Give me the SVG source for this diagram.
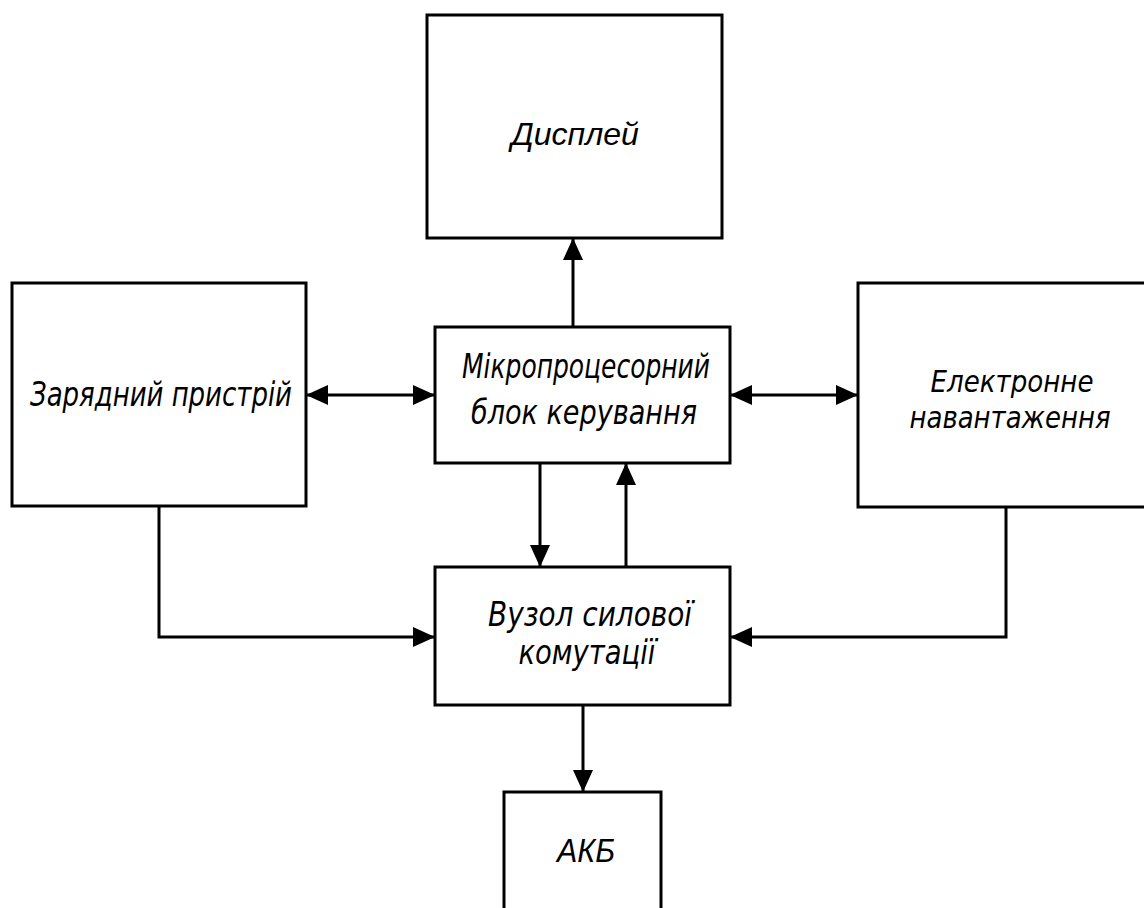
<svg xmlns="http://www.w3.org/2000/svg" width="1144" height="908" viewBox="0 0 1144 908">
<style>
.box{fill:#fff;stroke:#000;stroke-width:3}
.con{fill:none;stroke:#000;stroke-width:3}
.g{font-family:"DejaVu Sans Condensed","DejaVu Sans",sans-serif;font-stretch:condensed;font-style:oblique;font-size:33px;fill:#000;text-anchor:middle}
.a{font-family:"Liberation Sans",Arial,sans-serif;font-style:italic;fill:#000;text-anchor:middle}
</style>
<defs>
<marker id="arr" markerUnits="userSpaceOnUse" markerWidth="22" markerHeight="20" refX="22" refY="10" orient="auto-start-reverse" viewBox="0 0 22 20">
<path d="M0,0 L22,10 L0,20 z" fill="#000"/>
</marker>
</defs>
<rect width="1144" height="908" fill="#fff"/>
<g id="display"><rect class="box" x="427" y="15" width="295" height="223"/><text class="a" x="575" y="145" font-size="32">Дисплей</text></g>
<g id="charger"><rect class="box" x="12" y="283" width="294" height="223"/><text class="g" x="161" y="406" textLength="262" lengthAdjust="spacingAndGlyphs">Зарядний пристрій</text></g>
<g id="mcu"><rect class="box" x="435" y="327" width="295" height="136"/><text class="g" x="586" y="378" textLength="248" lengthAdjust="spacingAndGlyphs">Мікропроцесорний</text><text class="g" x="584" y="424" textLength="226" lengthAdjust="spacingAndGlyphs">блок керування</text></g>
<g id="load"><rect class="box" x="858" y="283" width="300" height="224"/><text class="g" x="1012" y="392" font-size="30" style="font-size:30px" textLength="163" lengthAdjust="spacingAndGlyphs">Електронне</text><text class="g" x="1010" y="428" style="font-size:30px" textLength="201" lengthAdjust="spacingAndGlyphs">навантаження</text></g>
<g id="switch"><rect class="box" x="435" y="567" width="295" height="138"/><text class="g" x="590" y="626" textLength="204" lengthAdjust="spacingAndGlyphs">Вузол силової</text><text class="g" x="587" y="664" textLength="137" lengthAdjust="spacingAndGlyphs">комутації</text></g>
<g id="akb"><rect class="box" x="504" y="792" width="157" height="130"/><text class="a" x="586" y="862" font-size="34" textLength="58" lengthAdjust="spacingAndGlyphs">АКБ</text></g>
<g id="connectors">
<line class="con" x1="573" y1="327" x2="573" y2="238" marker-end="url(#arr)"/>
<line class="con" x1="306" y1="395" x2="435" y2="395" marker-start="url(#arr)" marker-end="url(#arr)"/>
<line class="con" x1="730" y1="395" x2="858" y2="395" marker-start="url(#arr)" marker-end="url(#arr)"/>
<line class="con" x1="540" y1="463" x2="540" y2="567" marker-end="url(#arr)"/>
<line class="con" x1="626" y1="567" x2="626" y2="463" marker-end="url(#arr)"/>
<polyline class="con" points="159,506 159,637 435,637" marker-end="url(#arr)"/>
<polyline class="con" points="1006,507 1006,637 730,637" marker-end="url(#arr)"/>
<line class="con" x1="583" y1="705" x2="583" y2="792" marker-end="url(#arr)"/>
</g>
</svg>
